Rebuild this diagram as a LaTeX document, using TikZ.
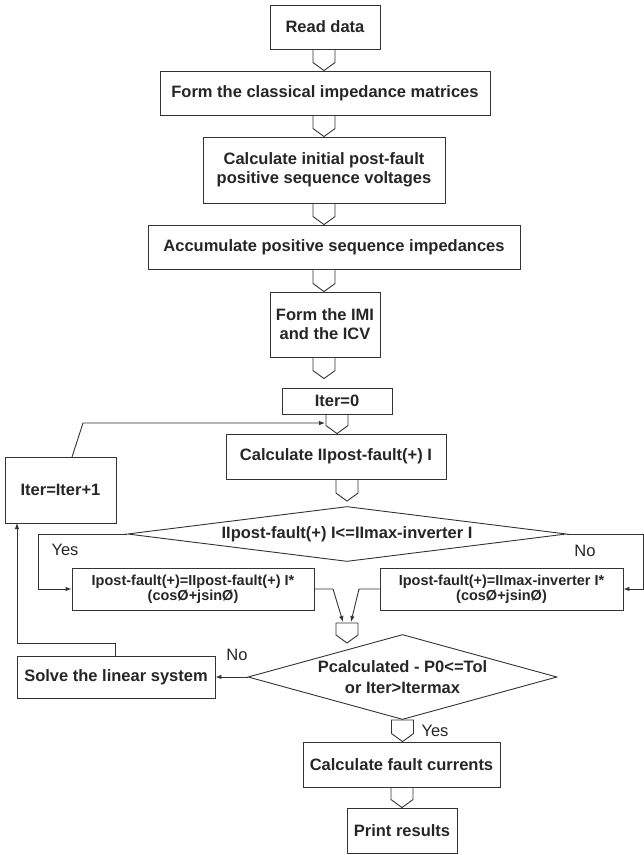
\documentclass[tikz,border=0pt]{standalone}
\usepackage{fontspec}
\setmainfont{Liberation Sans}
\usetikzlibrary{shapes.geometric,arrows.meta,calc}
\newcommand\openpent[3]{\draw[ln] let \p0=(#1), \p1=(#2), \p2=(#3) in (\x0-11pt,\y1) -- (\x0-11pt,\y2+8pt) -- (\x0,\y2) -- (\x0+11pt,\y2+8pt) -- (\x0+11pt,\y1);}
\newcommand\closedpent[3]{\draw[ln] let \p0=(#1), \p1=(#2), \p2=(#3) in (\x0-11pt,\y1) -- (\x0-11pt,\y2+8pt) -- (\x0,\y2) -- (\x0+11pt,\y2+8pt) -- (\x0+11pt,\y1) -- cycle;}
\begin{document}
\begin{tikzpicture}[x=1pt,y=-1pt,
  ln/.style={draw=black!80, line width=0.9pt},
  box/.style={ln, rectangle, inner sep=0pt, align=center, text=black!85,
    font=\bfseries\fontsize{16.5}{19}\selectfont},
  smallbox/.style={box, font=\bfseries\fontsize{14.5}{15.5}\selectfont},
  dec/.style={ln, diamond, inner sep=0pt, align=center, text=black!85,
    font=\bfseries\fontsize{16.5}{21}\selectfont},
  lbl/.style={inner sep=0pt, text=black!85, font=\fontsize{16.5}{19}\selectfont},
  arr/.style={ln, -{Latex[length=6pt,width=4.5pt]}},
]
\useasboundingbox[fill=white] (0,0) rectangle (644,855);

% main column
\node[box, minimum width=110pt, minimum height=44pt] (rd) at (325,27) {Read data};
\node[box, minimum width=330pt, minimum height=44pt] (b2) at (325,93) {Form the classical impedance matrices};
\node[box, minimum width=242pt, minimum height=66pt] (b3) at (324,170) {Calculate initial post-fault\\positive sequence voltages};
\node[box, minimum width=372pt, minimum height=44pt] (b4) at (334,247) {Accumulate positive sequence impedances};
\node[box, minimum width=110pt, minimum height=65pt] (b5) at (325,324.5) {Form the IMI\\and the ICV};
\node[box, minimum width=110pt, minimum height=26pt] (it0) at (337,401) {Iter=0};
\node[box, minimum width=220pt, minimum height=45pt] (calc) at (336,456.5) {Calculate IIpost-fault(+) I};
\node[box, minimum width=111pt, minimum height=66pt] (inc) at (60.5,490) {Iter=Iter+1};
\node[dec, shape aspect=8, minimum width=439pt, minimum height=55pt] (d1) at (347,534) {IIpost-fault(+) I<=IImax-inverter I};
\node[smallbox, minimum width=242pt, minimum height=42pt] (lb) at (193,589) {Ipost-fault(+)=IIpost-fault(+) I*\\(cosØ+jsinØ)};
\node[smallbox, minimum width=243pt, minimum height=42pt] (rb) at (501.5,589) {Ipost-fault(+)=IImax-inverter I*\\(cosØ+jsinØ)};
\node[dec, shape aspect=3.64, minimum width=309pt, minimum height=85pt] (d2) at (402.5,677) {Pcalculated - P0<=Tol\\or Iter>Itermax};
\node[box, minimum width=198pt, minimum height=42pt] (solve) at (116,677) {Solve the linear system};
\node[box, minimum width=197pt, minimum height=45pt] (cfc) at (401.5,764.5) {Calculate fault currents};
\node[box, minimum width=110pt, minimum height=45pt] (pr) at (402,830.5) {Print results};

% labels
\node[lbl] (yes1) at (65,550) {Yes};
\node[lbl] (no1) at (585,551) {No};
\node[lbl] (no2) at (237,655) {No};
\node[lbl] (yes2) at (435,731) {Yes};

% helper coordinates
\coordinate (ax) at (324,0);
\coordinate (mtop) at (347,623);
\coordinate (mtip) at (347,643);
\coordinate (fbs) at (72,457);
\coordinate (fb1) at (83,423);
\coordinate (fbend) at (325,423);
\coordinate (yl) at (38,534);
\coordinate (yl2) at (38,589);
\coordinate (nr) at (643,534);
\coordinate (nr2) at (643,589);
\coordinate (jl) at (333,589);
\coordinate (jr) at (359,589);
\coordinate (jlt) at (343,622);
\coordinate (jrt) at (351,622);
\coordinate (ss) at (115,656);
\coordinate (s1) at (115,643);
\coordinate (s2) at (17,643);
\coordinate (s3) at (17,523);

% pentagon connectors
\openpent{ax}{rd.south}{b2.north}
\openpent{ax}{b2.south}{b3.north}
\openpent{ax}{b3.south}{b4.north}
\openpent{ax}{b4.south}{b5.north}
\openpent{ax}{b5.south}{$(it0.north)+(0,-9)$}
\openpent{it0}{it0.south}{calc.north}
\openpent{d1}{calc.south}{$(d1.north)+(0,-5)$}
\closedpent{mtop}{mtop}{mtip}
\closedpent{d2}{d2.south}{cfc.north}
\openpent{pr}{cfc.south}{pr.north}

% arrows
\draw[arr] (fbs) -- (fb1) -- (fbend);
\draw[arr] (d1.west) -- (yl) -- (yl2) -- (lb.west);
\draw[arr] (d1.east) -- (nr) -- (nr2) -- (rb.east);
\draw[arr] (lb.east) -- (jl) -- (jlt);
\draw[arr] (rb.west) -- (jr) -- (jrt);
\draw[arr] (d2.west) -- (solve.east);
\draw[arr] (ss) -- (s1) -- (s2) -- (s3);
\end{tikzpicture}
\end{document}
